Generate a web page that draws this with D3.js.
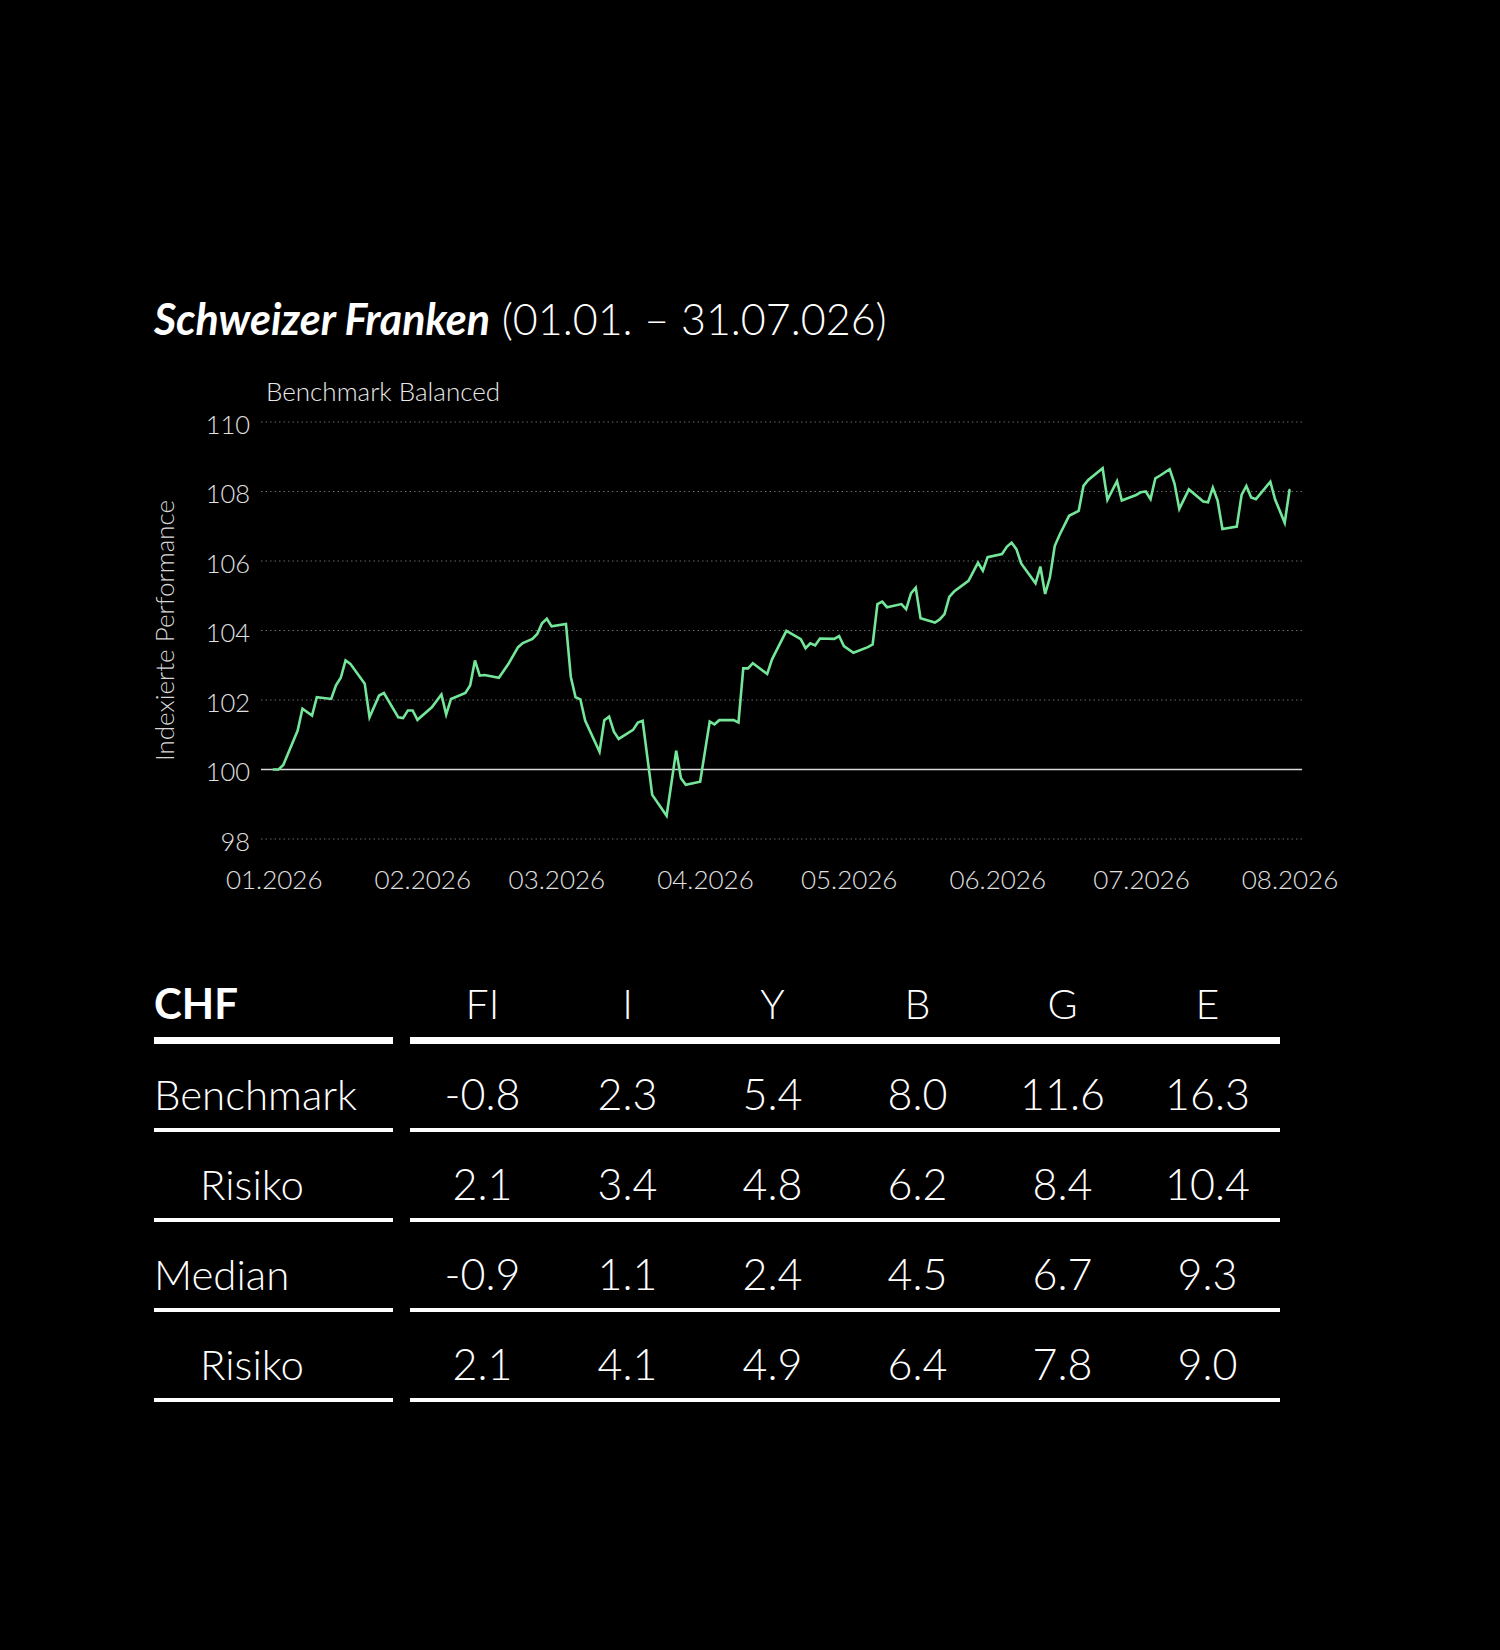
<!DOCTYPE html>
<html>
<head>
<meta charset="utf-8">
<script src="https://cdn.jsdelivr.net/npm/d3@7"></script>
<style>
  html, body { margin: 0; padding: 0; background: #000; }
  svg { display: block; }
  text { font-family: Lato, "Open Sans", sans-serif; }
</style>
</head>
<body>
<svg id="chart" width="1500" height="1650"></svg>
<script>
// ---------- DATA ----------
const titleBold = "Schweizer Franken";
const titleRest = " (01.01. – 31.07.026)";
const seriesName = "Benchmark Balanced";
const yAxisTitle = "Indexierte Performance";

const dates = [
  "2026-01-01","2026-01-02","2026-01-03","2026-01-06","2026-01-07","2026-01-09","2026-01-10","2026-01-13","2026-01-14","2026-01-15",
  "2026-01-16","2026-01-17","2026-01-20","2026-01-21","2026-01-23","2026-01-24","2026-01-27","2026-01-28","2026-01-29","2026-01-30",
  "2026-01-31","2026-02-03","2026-02-05","2026-02-06","2026-02-07","2026-02-10","2026-02-11","2026-02-12","2026-02-13","2026-02-14",
  "2026-02-17","2026-02-19","2026-02-21","2026-02-22","2026-02-24","2026-02-25","2026-02-26","2026-02-27","2026-02-28","2026-03-03",
  "2026-03-04","2026-03-05","2026-03-06","2026-03-07","2026-03-10","2026-03-11","2026-03-12","2026-03-13","2026-03-14","2026-03-17",
  "2026-03-18","2026-03-19","2026-03-21","2026-03-24","2026-03-26","2026-03-27","2026-03-28","2026-03-31","2026-04-02","2026-04-03",
  "2026-04-04","2026-04-07","2026-04-08","2026-04-09","2026-04-10","2026-04-11","2026-04-14","2026-04-15","2026-04-18","2026-04-21",
  "2026-04-22","2026-04-23","2026-04-24","2026-04-25","2026-04-28","2026-04-29","2026-04-30","2026-05-02","2026-05-05","2026-05-06",
  "2026-05-07","2026-05-08","2026-05-09","2026-05-12","2026-05-13","2026-05-14","2026-05-15","2026-05-16","2026-05-19","2026-05-20",
  "2026-05-21","2026-05-22","2026-05-23","2026-05-26","2026-05-28","2026-05-29","2026-05-30","2026-06-02","2026-06-03","2026-06-04",
  "2026-06-05","2026-06-06","2026-06-09","2026-06-10","2026-06-11","2026-06-12","2026-06-13","2026-06-14","2026-06-16","2026-06-18",
  "2026-06-19","2026-06-20","2026-06-23","2026-06-24","2026-06-26","2026-06-27","2026-06-30","2026-07-01","2026-07-02","2026-07-03",
  "2026-07-04","2026-07-05","2026-07-07","2026-07-08","2026-07-09","2026-07-11","2026-07-14","2026-07-15","2026-07-16","2026-07-17",
  "2026-07-18","2026-07-21","2026-07-22","2026-07-23","2026-07-24","2026-07-25","2026-07-28","2026-07-29","2026-07-31","2026-08-01"
];
const values = [
  100.00,100.00,100.13,101.12,101.75,101.55,102.08,102.03,102.42,102.64,
  103.14,103.04,102.47,101.50,102.13,102.20,101.50,101.48,101.70,101.70,
  101.43,101.79,102.16,101.58,102.03,102.20,102.42,103.14,102.70,102.72,
  102.64,103.04,103.52,103.64,103.76,103.90,104.21,104.34,104.12,104.19,
  102.67,102.08,102.02,101.41,100.51,101.42,101.52,101.09,100.88,101.14,
  101.35,101.40,99.27,98.67,100.54,99.75,99.56,99.65,101.38,101.30,
  101.42,101.42,101.35,102.91,102.91,103.06,102.75,103.17,103.99,103.75,
  103.49,103.63,103.57,103.77,103.76,103.84,103.55,103.36,103.52,103.60,
  104.76,104.83,104.67,104.76,104.61,105.07,105.23,104.35,104.23,104.32,
  104.47,104.97,105.12,105.43,105.95,105.72,106.11,106.20,106.41,106.53,
  106.34,105.93,105.36,105.84,105.05,105.53,106.43,106.75,107.30,107.44,
  108.16,108.33,108.67,107.76,108.30,107.74,107.90,107.98,108.00,107.78,
  108.38,108.46,108.64,108.23,107.50,108.06,107.71,107.69,108.11,107.74,
  106.92,106.99,107.90,108.16,107.83,107.78,108.28,107.77,107.10,108.04
];
const yTicks = [98, 100, 102, 104, 106, 108, 110];
const xDomain = ["2026-01-01", "2026-08-01"];

const tableCorner = "CHF";
const tableColumns = ["FI", "I", "Y", "B", "G", "E"];
const rowLabels = ["Benchmark", "Risiko", "Median", "Risiko"];
const rowIndented = [false, true, false, true];
const rowValues = [
  [-0.8, 2.3, 5.4, 8.0, 11.6, 16.3],
  [2.1, 3.4, 4.8, 6.2, 8.4, 10.4],
  [-0.9, 1.1, 2.4, 4.5, 6.7, 9.3],
  [2.1, 4.1, 4.9, 6.4, 7.8, 9.0]
];

// ---------- CHART ----------
const svg = d3.select("#chart");
svg.append("rect").attr("width", 1500).attr("height", 1650).attr("fill", "#000");

const parse = d3.timeParse("%Y-%m-%d");
const series = dates.map((d, i) => ({ date: parse(d), value: values[i] }));

const x = d3.scaleTime().domain(xDomain.map(parse)).range([273.7, 1289.5]);
const y = d3.scaleLinear().domain([98, 110]).range([839, 422]);
const gridX0 = 261, gridX1 = 1302;

// Title
const title = svg.append("text")
  .attr("x", 154).attr("y", 335)
  .attr("fill", "#fff").attr("font-size", 43);
title.append("tspan").attr("font-weight", 700).attr("font-style", "italic").text(titleBold);
title.append("tspan").attr("font-weight", 300).text(titleRest);

// Series label
svg.append("text").attr("x", 266).attr("y", 401)
  .attr("fill", "#e8e8e8").attr("font-size", 26).attr("font-weight", 300)
  .text(seriesName);

// Y axis title
svg.append("text")
  .attr("transform", `translate(174, ${y(104)}) rotate(-90)`)
  .attr("text-anchor", "middle")
  .attr("fill", "#d8d8d8").attr("font-size", 26).attr("font-weight", 300)
  .text(yAxisTitle);

// Gridlines
svg.append("g").selectAll("line")
  .data(yTicks.filter(t => t !== 100))
  .join("line")
  .attr("x1", gridX0).attr("x2", gridX1)
  .attr("y1", d => y(d)).attr("y2", d => y(d))
  .attr("stroke", "#6a6a6a").attr("stroke-width", 1)
  .attr("stroke-dasharray", "1.5,3");

svg.append("line")
  .attr("x1", gridX0).attr("x2", gridX1)
  .attr("y1", y(100)).attr("y2", y(100))
  .attr("stroke", "#d9d9d9").attr("stroke-width", 1.5);

// Y axis labels
const yAxis = d3.axisLeft(y).tickValues(yTicks).tickSize(0).tickPadding(0)
  .tickFormat(d3.format("d"));
const gy = svg.append("g").attr("transform", "translate(250,0)").call(yAxis);
gy.select(".domain").remove();
gy.selectAll("text")
  .attr("fill", "#e0e0e0").attr("font-size", 25.5).attr("font-weight", 300)
  .attr("font-family", "Lato, sans-serif")
  .attr("dy", "0.45em");

// X axis labels
const xAxis = d3.axisBottom(x).ticks(d3.timeMonth.every(1)).tickSize(0).tickPadding(0)
  .tickFormat(d3.timeFormat("%m.%Y"));
const gx = svg.append("g").attr("transform", "translate(0,869)").call(xAxis);
gx.select(".domain").remove();
gx.selectAll("text")
  .attr("fill", "#e0e0e0").attr("font-size", 26).attr("font-weight", 300)
  .attr("font-family", "Lato, sans-serif")
  .attr("dy", "0.75em");

// Line
const line = d3.line().x(d => x(d.date)).y(d => y(d.value));
svg.append("path").datum(series)
  .attr("d", line)
  .attr("fill", "none")
  .attr("stroke", "#74e69a")
  .attr("stroke-width", 2.6)
  .attr("stroke-linejoin", "miter")
  .attr("stroke-linecap", "round");

// ---------- TABLE ----------
const leftX0 = 154, leftX1 = 393, rightX0 = 410, rightX1 = 1280;
const col = d3.scaleBand().domain(tableColumns).range([rightX0, rightX1]);
const rowY = d3.scaleLinear().domain([0, 1]).range([1110, 1200]); // baseline per row index
const lineY = i => 1130 + i * 90;

// header
svg.append("text").attr("x", leftX0).attr("y", 1019)
  .attr("fill", "#fff").attr("font-size", 42).attr("font-weight", 700)
  .text(tableCorner);
svg.append("g").selectAll("text").data(tableColumns).join("text")
  .attr("x", d => col(d) + col.bandwidth() / 2).attr("y", 1019)
  .attr("text-anchor", "middle")
  .attr("fill", "#fff").attr("font-size", 41).attr("font-weight", 300)
  .text(d => d);

// header rules (thick)
[[leftX0, leftX1], [rightX0, rightX1]].forEach(([a, b]) => {
  svg.append("rect").attr("x", a).attr("y", 1037).attr("width", b - a).attr("height", 7).attr("fill", "#fff");
});

// rows
rowLabels.forEach((lab, i) => {
  const by = rowY(i);
  svg.append("text").attr("x", rowIndented[i] ? 200 : leftX0).attr("y", by)
    .attr("fill", "#fff").attr("font-size", 42).attr("font-weight", 300)
    .text(lab);
  svg.append("g").selectAll("text").data(rowValues[i]).join("text")
    .attr("x", (d, j) => col(tableColumns[j]) + col.bandwidth() / 2)
    .attr("y", by)
    .attr("text-anchor", "middle")
    .attr("fill", "#fff").attr("font-size", 43).attr("font-weight", 300)
    .text(d => d.toFixed(1));
  [[leftX0, leftX1], [rightX0, rightX1]].forEach(([a, b]) => {
    svg.append("rect").attr("x", a).attr("y", lineY(i) - 2).attr("width", b - a).attr("height", 4).attr("fill", "#fff");
  });
});
</script>
</body>
</html>
